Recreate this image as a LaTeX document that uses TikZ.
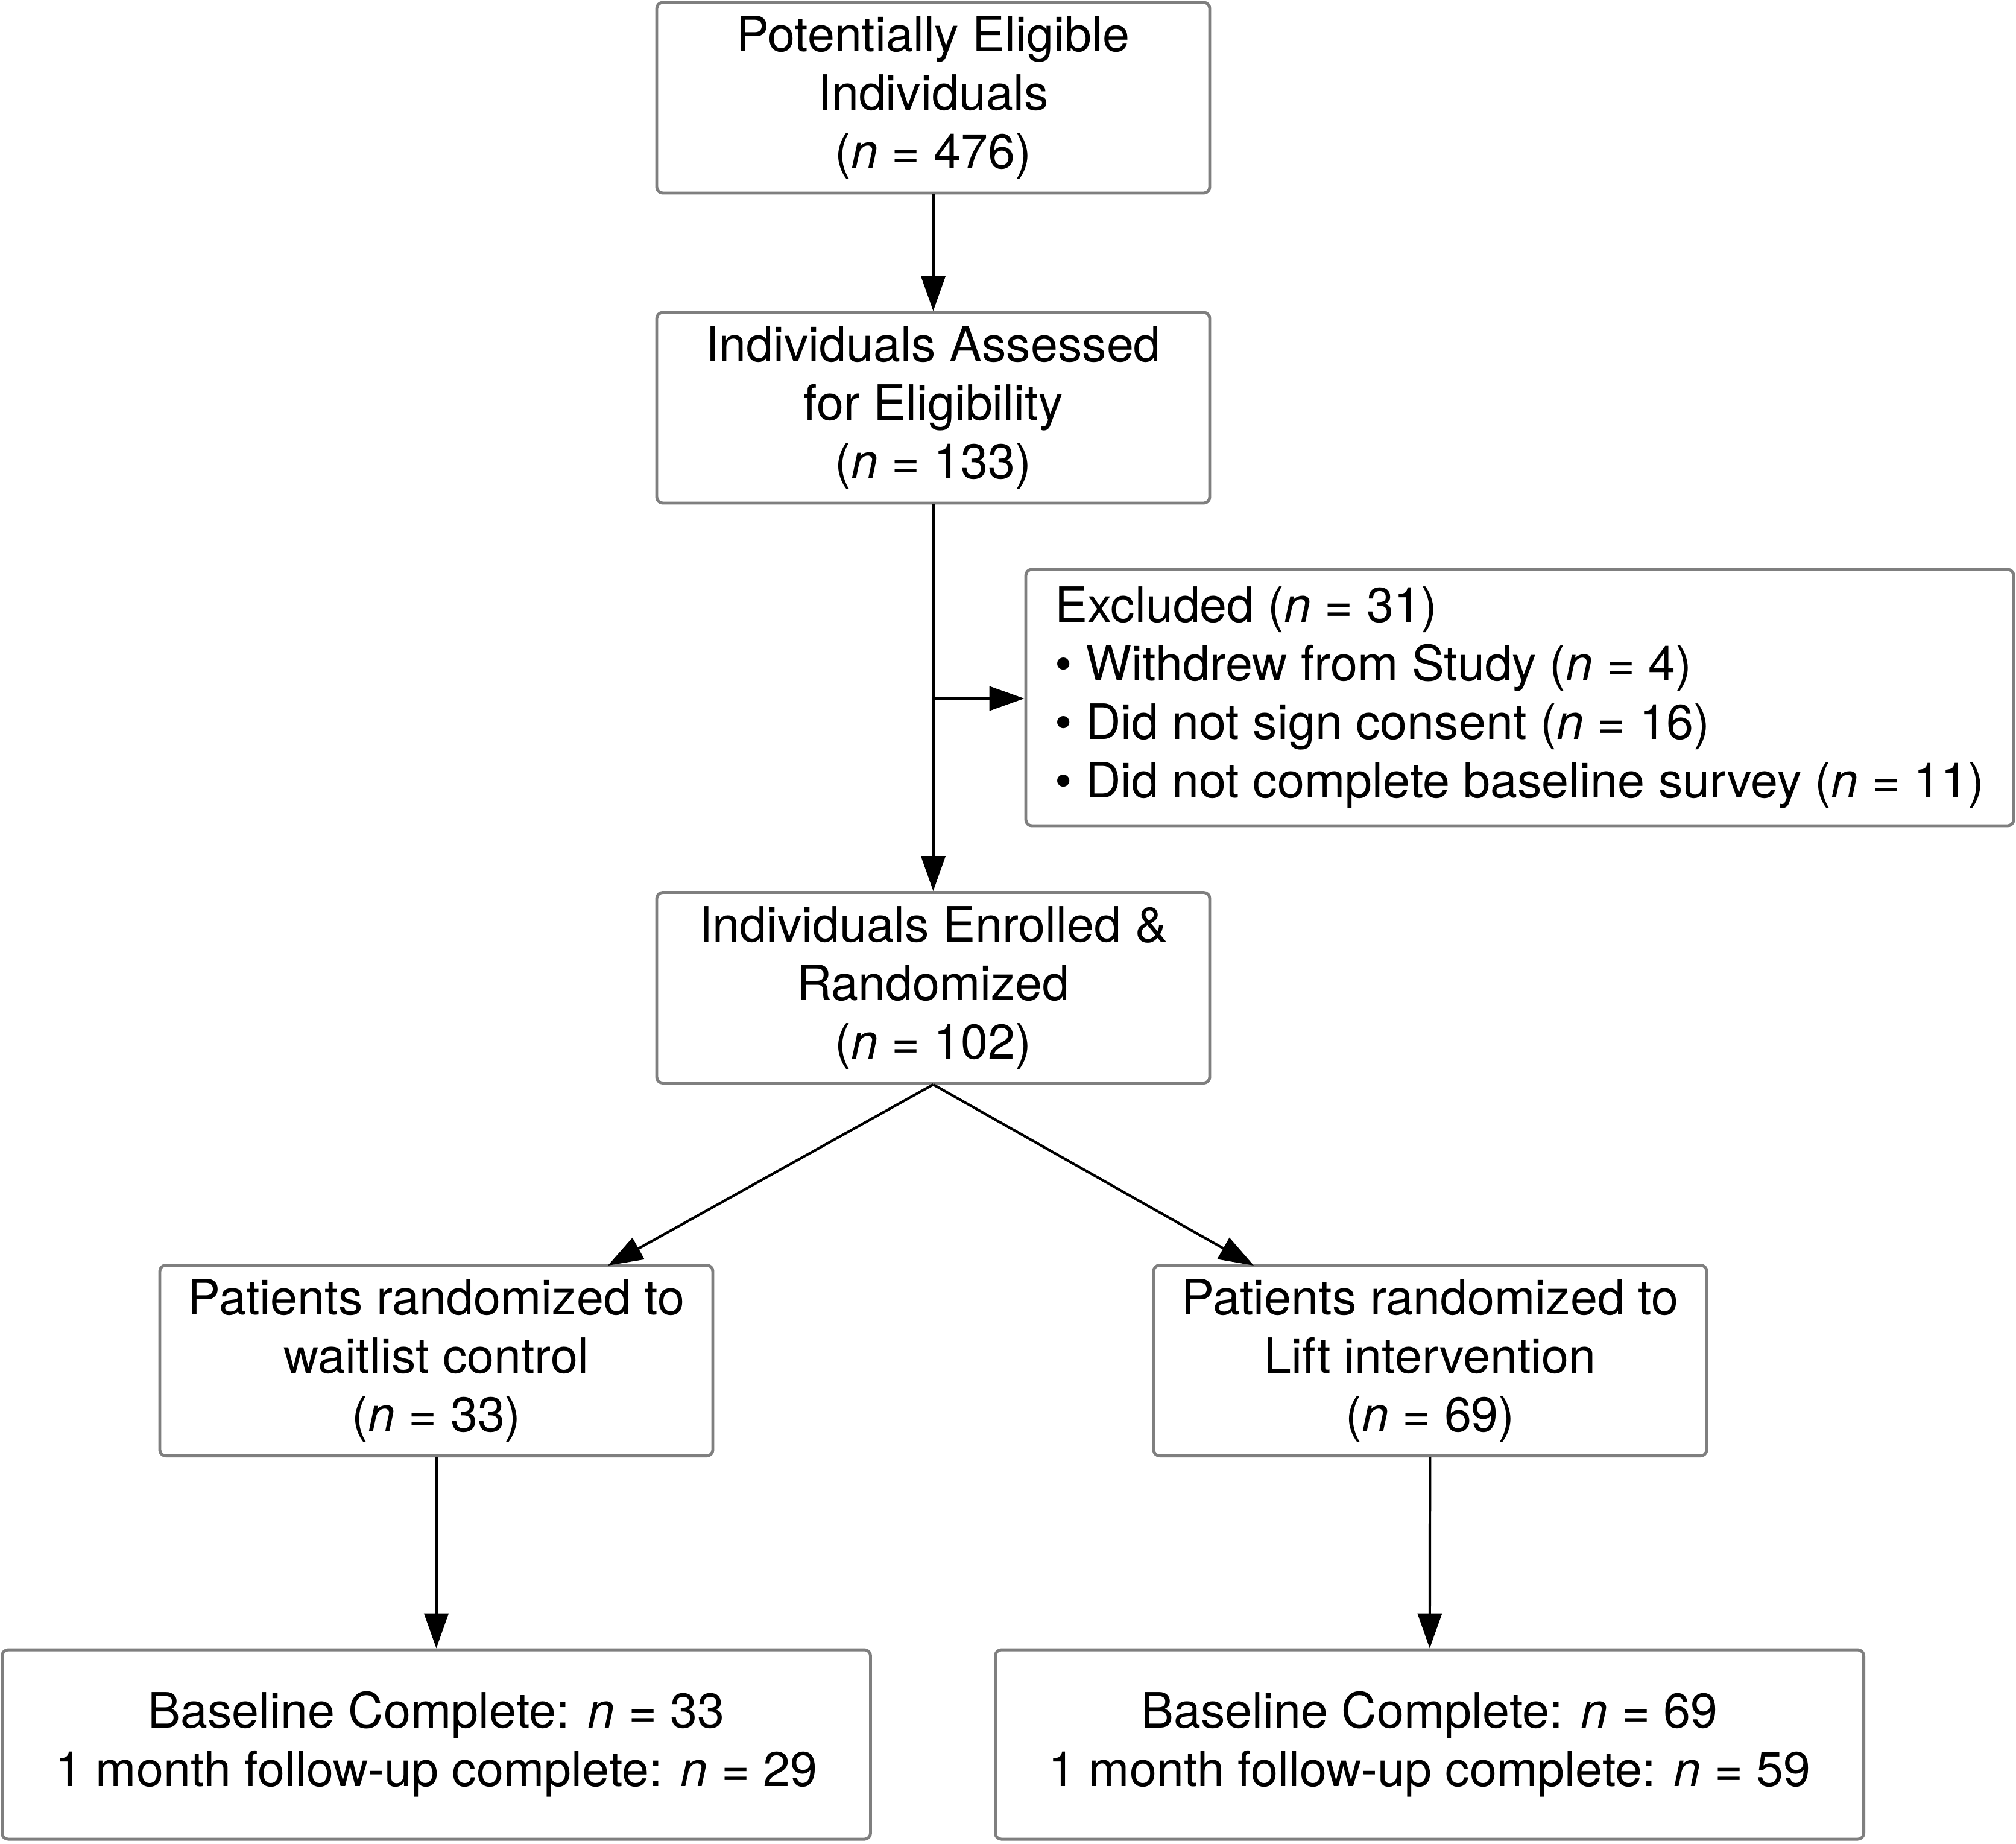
\documentclass[tikz,border=0pt]{standalone}
\usepackage{fontspec}
\setmainfont{TeX Gyre Heros}
\usepackage{xcolor}
\usepackage{tikz}
\usetikzlibrary{arrows.meta,positioning,calc}
\definecolor{Frame}{HTML}{7F7F7F}
\newcommand{\nval}[1]{(\textit{n} = #1)}

\begin{document}
\begin{tikzpicture}[
  box/.style={draw=Frame,line width=1.4pt,rounded corners=1mm,align=center,
    font=\fontsize{23}{27.6}\selectfont,fill=white,inner sep=0pt},
  narrow/.style={box,minimum width=9.17cm,minimum height=3.16cm},
  wide/.style={box,minimum width=14.4cm,minimum height=3.14cm},
  arr/.style={-{Triangle[length=5.8mm,width=4mm]},line width=1.2pt,color=black}]
\useasboundingbox (0,0) rectangle (33.43,-30.56);
\node[narrow] (elig) at (15.475,-1.62) {Potentially Eligible\\Individuals\\\nval{476}};
\node[narrow] (assess) at (15.475,-6.76) {Individuals Assessed\\for Eligibility\\\nval{133}};
\node[box,align=left,inner xsep=3.2mm,minimum width=16.38cm,minimum height=4.25cm] (excl) at (25.2,-11.565)
  {Excluded \nval{31}\\\textbullet{} Withdrew from Study \nval{4}\\\textbullet{} Did not sign consent \nval{16}\\\textbullet{} Did not complete baseline survey \nval{11}};
\node[narrow] (rand) at (15.475,-16.375) {Individuals Enrolled \&\\Randomized\\\nval{102}};
\node[narrow] (wait) at (7.235,-22.555) {Patients randomized to\\waitlist control\\\nval{33}};
\node[narrow] (lift) at (23.715,-22.555) {Patients randomized to\\Lift intervention\\\nval{69}};
\node[wide] (waitdone) at (7.235,-28.92) {Baseline Complete: \textit{n} = 33\\1 month follow-up complete: \textit{n} = 29};
\node[wide] (liftdone) at (23.705,-28.92) {Baseline Complete: \textit{n} = 69\\1 month follow-up complete: \textit{n} = 59};
% branch point on the screening line
\coordinate (split) at (15.475,-11.58);
\coordinate (waittip) at (10.08,-20.98);
\coordinate (lifttip) at (20.79,-20.98);
\foreach \a/\b in {elig/assess,assess/rand,wait/waitdone,lift/liftdone}
  \draw[arr] (\a) -- (\b);
\draw[arr] (split) -- (split -| excl.west);
\draw[arr] (rand.south) -- (waittip);
\draw[arr] (rand.south) -- (lifttip);
\end{tikzpicture}
\end{document}
